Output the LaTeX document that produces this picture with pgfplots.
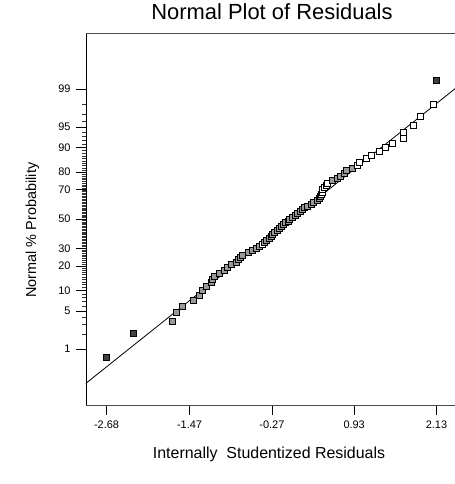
\documentclass[border=0pt]{standalone}
\usepackage{fontspec}
\setmainfont{Liberation Sans}
\usepackage{pgfplots}
\pgfplotsset{compat=1.18}
\usepackage{pgfplotstable}

% x = internally studentized residual, z = normal quantile of (i-0.5)/75, c = marker class
\pgfplotstableread{
x z c
-2.68 -2.475 d
-2.29 -2.054 d
-1.72 -1.834 g
-1.67 -1.678 g
-1.58 -1.555 g
-1.42 -1.451 g
-1.33 -1.361 g
-1.29 -1.282 g
-1.22 -1.209 g
-1.16 -1.142 g
-1.14 -1.080 g
-1.11 -1.022 g
-1.03 -0.967 g
-0.97 -0.915 g
-0.92 -0.866 g
-0.86 -0.818 g
-0.79 -0.772 g
-0.76 -0.728 g
-0.73 -0.685 g
-0.70 -0.643 g
-0.62 -0.603 g
-0.55 -0.563 g
-0.50 -0.524 g
-0.45 -0.486 g
-0.41 -0.449 w
-0.38 -0.412 g
-0.35 -0.376 g
-0.31 -0.341 g
-0.28 -0.305 g
-0.26 -0.271 g
-0.23 -0.236 g
-0.19 -0.202 g
-0.155 -0.168 g
-0.13 -0.134 g
-0.11 -0.100 g
-0.07 -0.067 g
-0.03 -0.033 g
-0.01 0.000 g
0.03 0.033 g
0.07 0.067 g
0.10 0.100 g
0.14 0.134 g
0.17 0.168 g
0.21 0.202 g
0.25 0.236 g
0.30 0.271 g
0.34 0.305 g
0.39 0.341 g
0.42 0.376 g
0.43 0.412 g
0.45 0.449 w
0.46 0.486 w
0.47 0.524 w
0.49 0.563 w
0.52 0.603 w
0.54 0.643 w
0.61 0.685 g
0.68 0.728 g
0.73 0.772 g
0.78 0.818 g
0.82 0.866 g
0.90 0.915 g
0.98 0.967 w
1.01 1.022 w
1.10 1.080 w
1.18 1.142 w
1.29 1.209 w
1.38 1.282 w
1.48 1.361 w
1.64 1.451 w
1.65 1.555 w
1.79 1.678 w
1.90 1.834 w
2.09 2.054 w
2.13 2.475 d
}\resid

\pgfplotstableread{
x z
-3.20 -3.156
2.60 2.528
}\fitline

\begin{document}
\begin{tikzpicture}
\useasboundingbox (-86bp,-79bp) rectangle (369bp,405bp);
\begin{axis}[
  at={(0,0)}, anchor=south west,
  scale only axis, width=369bp, height=372bp,
  xmin=-2.98, xmax=2.40, ymin=-3.33, ymax=3.33,
  axis x line*=bottom, axis y line*=left,
  x axis line style={-, black!70, line width=0.5pt},
  y axis line style={-, black, line width=0.8pt},
  tick align=outside,
  major tick length=10bp, minor tick length=4bp,
  every tick/.style={black, line width=0.6pt},
  xtick={-2.68,-1.47,-0.27,0.93,2.13},
  xticklabels={-2.68,-1.47,-0.27,0.93,2.13},
  ytick={-2.3263,-1.6449,-1.2816,-0.8416,-0.5244,0,0.5244,0.8416,1.2816,1.6449,2.3263},
  yticklabels={1,5,10,20,30,50,70,80,90,95,99},
  minor ytick={-2.3263,-2.0537,-1.8808,-1.7507,-1.6449,-1.5548,-1.4758,-1.4051,-1.3408,-1.2816,-1.2265,-1.1750,-1.1264,-1.0803,-1.0364,-0.9945,-0.9542,-0.9154,-0.8779,-0.8416,-0.8064,-0.7722,-0.7388,-0.7063,-0.6745,-0.6433,-0.6128,-0.5828,-0.5534,-0.5244,-0.4959,-0.4677,-0.4399,-0.4125,-0.3853,-0.3585,-0.3319,-0.3055,-0.2793,-0.2533,-0.2275,-0.2019,-0.1764,-0.1510,-0.1257,-0.1004,-0.0753,-0.0502,-0.0251,0,0.0251,0.0502,0.0753,0.1004,0.1257,0.1510,0.1764,0.2019,0.2275,0.2533,0.2793,0.3055,0.3319,0.3585,0.3853,0.4125,0.4399,0.4677,0.4959,0.5244,0.5534,0.5828,0.6128,0.6433,0.6745,0.7063,0.7388,0.7722,0.8064,0.8416,0.8779,0.9154,0.9542,0.9945,1.0364,1.0803,1.1264,1.1750,1.2265,1.2816,1.3408,1.4051,1.4758,1.5548,1.6449,1.7507,1.8808,2.0537,2.3263},
  minor tick style={black!80, line width=0.4pt},
  ticklabel style={font=\fontsize{11}{13}\selectfont},
  xticklabel style={yshift=-2bp},
  yticklabel style={xshift=-2bp},
  title={Normal Plot of Residuals},
  title style={font=\fontsize{22}{26}\selectfont, at={(axis description cs:0.504,1.040)}, anchor=center},
  xlabel={Internally\ \ Studentized Residuals},
  xlabel style={font=\fontsize{16}{19}\selectfont, at={(axis description cs:0.496,-0.134)}, anchor=center},
  ylabel={Normal \% Probability},
  ylabel style={font=\fontsize{14.5}{17}\selectfont, at={(axis description cs:-0.145,0.47)}, anchor=center},
  clip=true,
]
\addplot[black, line width=0.8pt, no marks] table[x=x, y=z] {\fitline};
\addplot[scatter, only marks, mark size=3bp, scatter src=explicit symbolic,
  scatter/classes={
    d={mark=square*, draw=black, fill=black!75},
    g={mark=square*, draw=black, fill=black!40},
    w={mark=square*, draw=black, fill=white}},
  every mark/.append style={line width=0.6pt}]
  table[x=x, y=z, meta=c] {\resid};
\draw[black!70, line width=0.5pt] (rel axis cs:0,1) -- (rel axis cs:1,1);
\end{axis}
\end{tikzpicture}
\end{document}
